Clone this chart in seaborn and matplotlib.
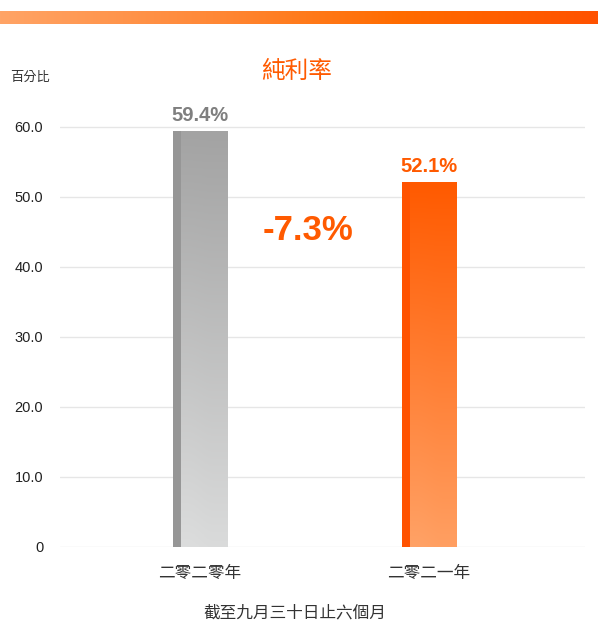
import numpy as np
import pandas as pd
import matplotlib.pyplot as plt
import seaborn as sns
from matplotlib.colors import LinearSegmentedColormap

# données
annees = ["二零二零年", "二零二一年"]
marge_nette = [59.4, 52.1]
etiquettes = ["59.4%", "52.1%"]
variation = "-7.3%"
yticks = [0, 10, 20, 30, 40, 50, 60]
ytick_labels = ["0", "10.0", "20.0", "30.0", "40.0", "50.0", "60.0"]

ORANGE = "#ff5a00"
cjk = ["Noto Sans CJK TC", "DejaVu Sans"]
num = ["Liberation Sans", "DejaVu Sans"]


def main():
    sns.set_theme(style="white")
    plt.rcParams["font.family"] = cjk

    df = pd.DataFrame({"annee": annees, "valeur": marge_nette})

    fig = plt.figure(figsize=(5.98, 6.21), dpi=100)
    ax = fig.add_axes([60 / 598, 1 - 547 / 621, 525 / 598, 420 / 621 * 66 / 60])

    sns.barplot(data=df, x="annee", y="valeur", ax=ax, width=0.236,
                color="white", saturation=1, linewidth=0)

    # dégradés dans les barres
    cmaps = [
        LinearSegmentedColormap.from_list("g", ["#dcdddd", "#a3a3a3"]),
        LinearSegmentedColormap.from_list("o", ["#ffa266", "#ff5a00"]),
    ]
    strips = ["#969696", "#ff5200"]
    grad = np.linspace(0, 1, 256).reshape(-1, 1)
    grad = np.hstack([grad, grad * 0.96 + 0.04])
    for patch, cm, sc in zip(ax.patches, cmaps, strips):
        x0, y0 = patch.get_x(), patch.get_y()
        w, h = patch.get_width(), patch.get_height()
        im = ax.imshow(grad, cmap=cm, aspect="auto", origin="lower",
                       extent=[x0, x0 + w, y0, y0 + h], zorder=3)
        im.set_clip_path(patch)
        ax.add_patch(plt.Rectangle((x0, y0), w * 0.15, h, color=sc,
                                   linewidth=0, zorder=4))

    ax.set_xlim(-0.611, 1.681)
    ax.set_ylim(0, 66)
    ax.set_yticks(yticks)
    ax.set_yticklabels(ytick_labels, family=num, fontsize=10.5, color="#222222")
    ax.tick_params(axis="y", length=0, pad=12)
    ax.tick_params(axis="x", length=0, pad=13)
    for t in ax.get_xticklabels():
        t.set_fontsize(12)
        t.set_color("#333333")
    ax.set_xlabel("")
    ax.set_ylabel("")
    ax.grid(axis="y", color="#e6e6e6", linewidth=1)
    ax.set_axisbelow(True)
    for s in ax.spines.values():
        s.set_visible(False)

    # étiquettes de valeurs
    couleurs = ["#7f7f7f", ORANGE]
    for i, (v, lab) in enumerate(zip(marge_nette, etiquettes)):
        ax.text(i, v + 0.9, lab, ha="center", va="bottom", fontsize=14.5,
                fontweight="bold", color=couleurs[i], family=num)

    ax.text(0.47, 45.2, variation, ha="center", va="center", fontsize=25,
            fontweight="bold", color=ORANGE, family=num)

    fig.text(297 / 598, 1 - 71 / 621, "純利率", ha="center", va="center",
             fontsize=17, color=ORANGE)
    fig.text(30 / 598, 1 - 77 / 621, "百分比", ha="center", va="center",
             fontsize=9.5, color="#333333")
    fig.text(295 / 598, 1 - 613 / 621, "截至九月三十日止六個月", ha="center",
             va="center", fontsize=12, color="#333333")

    # bandeau dégradé en haut
    top = fig.add_axes([0, 1 - 24 / 621, 1, 13 / 621])
    bar_cm = LinearSegmentedColormap.from_list(
        "t", ["#ffa466", "#ff8a3a", "#ff6c00", "#ff5200"])
    top.imshow(np.linspace(0, 1, 256).reshape(1, -1), cmap=bar_cm, aspect="auto")
    top.axis("off")

    fig.savefig("out.png", dpi=100)
    plt.close(fig)


if __name__ == "__main__":
    main()
